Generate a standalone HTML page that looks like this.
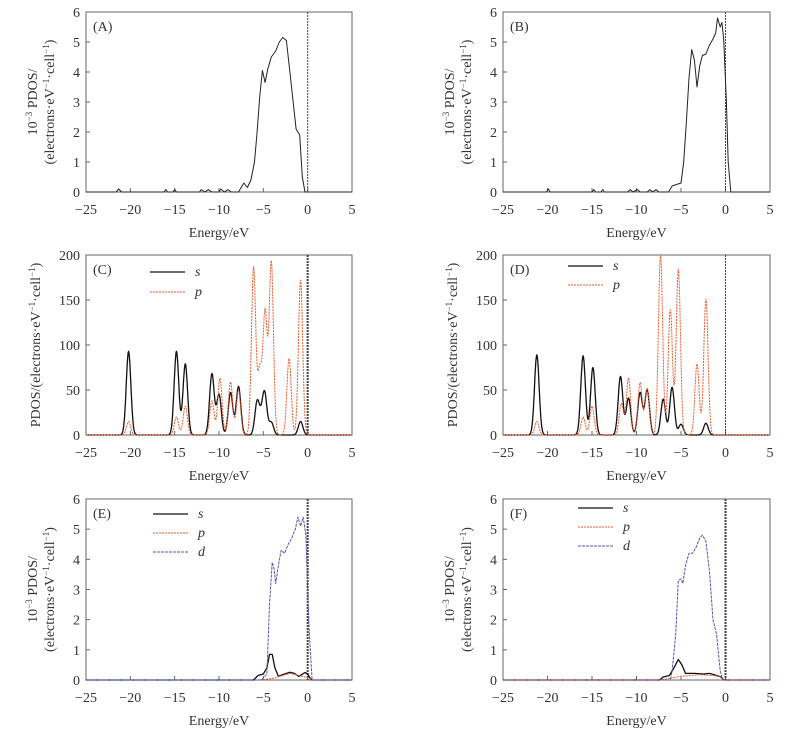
<!DOCTYPE html>
<html><head><meta charset="utf-8">
<style>
body{margin:0;background:#fff;}
svg{display:block;}
svg text{font-family:"Liberation Serif","Times New Roman",serif;}
</style></head>
<body>
<svg id="fig" width="799" height="729" viewBox="0 0 799 729" xmlns="http://www.w3.org/2000/svg" font-family="Liberation Serif, serif"></svg>
<script>
// ---- data ----
const xTicks = [-25,-20,-15,-10,-5,0,5];
const yTicksSmall = [0,1,2,3,4,5,6];
const yTicksBig = [0,50,100,150,200];

const aTotal = [[-25,0],[-21.6,0],[-21.3,0.1],[-21,0],[-16.2,0],[-16,0.08],[-15.8,0],[-15.2,0],[-15,0.08],[-14.8,0],[-12.2,0],[-12,0.08],[-11.6,0],[-11.2,0.08],[-10.8,0],[-10,0],[-9.8,0.1],[-9.4,0],[-9,0.08],[-8.6,0],[-7.8,0],[-7.2,0.3],[-6.8,0.15],[-6.4,0.4],[-6,1.0],[-5.7,2.0],[-5.4,3.2],[-5.1,4.05],[-4.8,3.65],[-4.5,4.1],[-4.1,4.5],[-3.6,4.7],[-3.2,5.0],[-2.8,5.15],[-2.4,5.05],[-2.0,4.0],[-1.6,2.9],[-1.3,2.1],[-0.9,1.9],[-0.6,0.5],[-0.3,0],[5,0]];
const bTotal = [[-25,0],[-20.1,0],[-19.9,0.1],[-19.7,0],[-15,0],[-14.8,0.08],[-14.6,0],[-14,0],[-13.8,0.08],[-13.6,0],[-11,0],[-10.7,0.08],[-10.4,0],[-9.9,0.08],[-9.6,0],[-8.8,0],[-8.5,0.08],[-8.2,0],[-7.8,0.08],[-7.5,0],[-6.4,0],[-6.0,0.2],[-5.5,0.25],[-5.0,0.3],[-4.7,1.0],[-4.4,2.3],[-4.1,3.8],[-3.8,4.75],[-3.5,4.4],[-3.2,3.5],[-2.9,4.2],[-2.6,4.55],[-2.2,4.6],[-1.8,4.9],[-1.4,5.1],[-1.1,5.3],[-0.9,5.8],[-0.6,5.5],[-0.4,5.65],[-0.2,5.1],[0.1,3.0],[0.3,1.0],[0.6,0],[5,0]];

const cSCenters = [-20.2,-14.8,-13.8,-10.8,-10.0,-8.7,-7.8,-5.7,-5.25,-4.85,-4.1,-0.8];
const cSHeights = [93,93,79,68,45,47,54,36,12,45,14,15];
const cPCenters = [-20.2,-14.8,-13.8,-10.8,-9.9,-8.7,-7.8,-6.1,-5.4,-4.8,-4.1,-2.1,-0.8];
const cPHeights = [15,20,32,38,63,59,50,186,70,135,192,85,172];

const dSCenters = [-21.2,-16.0,-14.9,-11.8,-10.9,-9.6,-8.8,-7.0,-6.0,-5.0,-2.2];
const dSHeights = [89,88,75,65,41,47,50,40,53,12,13];
const dPCenters = [-21.2,-16.0,-15.0,-11.7,-10.9,-9.6,-8.8,-7.3,-6.2,-5.3,-3.2,-2.2];
const dPHeights = [15,20,32,35,63,58,52,200,139,184,79,151];

const eD = [[-25,0],[-5.2,0],[-4.6,0.2],[-4.3,2.5],[-4.0,3.9],[-3.8,3.7],[-3.6,3.2],[-3.3,3.8],[-3.0,4.3],[-2.6,4.2],[-2.2,4.5],[-1.8,4.7],[-1.4,5.0],[-1.1,5.4],[-0.8,5.1],[-0.5,5.4],[-0.2,4.8],[0.0,3.0],[0.2,1.5],[0.5,0],[5,0]];
const eS = [[-25,0],[-6.1,0],[-5.6,0.15],[-5.0,0.2],[-4.6,0.4],[-4.3,0.85],[-4.0,0.85],[-3.7,0.4],[-3.3,0.12],[-2.8,0.18],[-2.0,0.26],[-1.5,0.22],[-1.0,0.12],[-0.3,0.25],[0,0.2],[0.3,0.05],[0.5,0],[5,0]];
const eP = [[-25,0],[-5.5,0],[-4,0.05],[-2,0.22],[-1,0.15],[0,0.08],[0.5,0],[5,0]];

const fD = [[-25,0],[-6.2,0],[-6.0,0.3],[-5.6,1.5],[-5.3,3.3],[-5.0,3.35],[-4.8,3.2],[-4.5,3.8],[-4.1,4.2],[-3.7,4.2],[-3.3,4.4],[-2.9,4.7],[-2.6,4.8],[-2.2,4.6],[-1.8,3.6],[-1.4,2.0],[-1.0,1.5],[-0.6,0.3],[-0.3,0],[5,0]];
const fS = [[-25,0],[-7.4,0],[-7,0.1],[-6.3,0.15],[-5.8,0.4],[-5.3,0.68],[-4.9,0.5],[-4.5,0.22],[-3.5,0.22],[-2.5,0.2],[-1.8,0.22],[-1.0,0.15],[-0.5,0.1],[-0.2,0],[5,0]];
const fP = [[-25,0],[-7.3,0],[-5,0.12],[-3,0.18],[-1.5,0.15],[-0.5,0.12],[-0.1,0],[5,0]];

// ---- drawing ----
const NS="http://www.w3.org/2000/svg";
const svg=document.getElementById('fig');
function mk(tag,attrs,parent){const e=document.createElementNS(NS,tag);for(const k in attrs)e.setAttribute(k,attrs[k]);(parent||svg).appendChild(e);return e;}
function gauss(centers,heights,sig){const pts=[];for(let x=-25;x<=5.001;x+=0.05){let y=0;for(let i=0;i<centers.length;i++){const d=(x-centers[i])/sig;y+=heights[i]*Math.exp(-0.5*d*d);}pts.push([x,y]);}return pts;}

function panel(o){
  const g=mk('g',{});
  
  
  const sx=v=>o.x0+(v+25)/30*(o.x1-o.x0);
  const sy=v=>o.y1-v/o.ymax*(o.y1-o.y0);
  const frame=mk('rect',{x:o.x0,y:o.y0,width:o.x1-o.x0,height:o.y1-o.y0,fill:'none',stroke:'#666','stroke-width':1},g);
  
  
  xTicks.forEach(t=>{
    mk('line',{x1:sx(t),x2:sx(t),y1:o.y1,y2:o.y1-4,stroke:'#666'},g);
    const tx=mk('text',{x:sx(t),y:o.y1+22,'font-size':14,'text-anchor':'middle',fill:'#333'},g);
    tx.textContent=(t<0?'\u2212'+(-t):t);
    
    
  });
  o.yt.forEach(t=>{
    mk('line',{x1:o.x0,x2:o.x0+4,y1:sy(t),y2:sy(t),stroke:'#666'},g);
    const ty=mk('text',{x:o.x0-6,y:sy(t)+5,'font-size':14,'text-anchor':'end',fill:'#333'},g);
    ty.textContent=t;
    
    
  });
  const xl=mk('text',{x:(o.x0+o.x1)/2,y:o.y1+45,'font-size':14,'text-anchor':'middle',fill:'#333'},g);
  xl.textContent='Energy/eV';
  
  
  const cy=(o.y0+o.y1)/2;
  if(o.big){
    const yl=mk('text',{x:0,y:0,'font-size':14,'text-anchor':'middle',fill:'#333',transform:`translate(${o.x0-46},${cy}) rotate(-90)`},g);
    yl.innerHTML='PDOS/(electrons·eV<tspan dy="-5" font-size="9">\u22121</tspan><tspan dy="5">·cell</tspan><tspan dy="-5" font-size="9">\u22121</tspan><tspan dy="5">)</tspan>';
    
    
  } else {
    const yl=mk('text',{x:0,y:0,'font-size':14,'text-anchor':'middle',fill:'#333',transform:`translate(${o.x0-49},${cy}) rotate(-90)`},g);
    yl.innerHTML='10<tspan dy="-5" font-size="9">\u22123</tspan><tspan dy="5"> PDOS/</tspan>';
    
    
    const yl2=mk('text',{x:0,y:0,'font-size':14,'text-anchor':'middle',fill:'#333',transform:`translate(${o.x0-32},${cy}) rotate(-90)`},g);
    yl2.innerHTML='(electrons·eV<tspan dy="-5" font-size="9">\u22121</tspan><tspan dy="5">·cell</tspan><tspan dy="-5" font-size="9">\u22121</tspan><tspan dy="5">)</tspan>';
    
    
  }
  const zl=mk('line',{x1:sx(0),x2:sx(0),y1:o.y0,y2:o.y1,stroke:'#444','stroke-width':o.zw||1,'stroke-dasharray':'2,1'},g);
  
  
  o.series.forEach(s=>{
    const d=s.pts.map((p,i)=>(i?'L':'M')+sx(p[0]).toFixed(1)+','+sy(Math.min(p[1],o.ymax)).toFixed(1)).join('');
    const pa=mk('path',{d:d,fill:'none',stroke:s.color,'stroke-width':s.w||1,'stroke-dasharray':s.dash||'none','stroke-linejoin':'round'},g);
    
    
  });
  const lab=mk('text',{x:o.x0+7,y:o.y0+19,'font-size':14,fill:'#333'},g);
  lab.textContent='('+o.id+')';
  
  
  if(o.legend){
    o.series.forEach((s,i)=>{
      const ly=o.legend.y+i*o.legend.dy;
      const ll=mk('line',{x1:o.legend.x,x2:o.legend.x+35,y1:ly,y2:ly,stroke:s.color,'stroke-width':s.w||1,'stroke-dasharray':s.dash||'none'},g);
      
      
      const lt=mk('text',{x:o.legend.x+45,y:ly+4,'font-size':14,'font-style':'italic',fill:'#333'},g);
      lt.textContent=s.name;
      
      
    });
  }
}
const RED='#e85a30', BLUE='#5555aa';
panel({id:'A',x0:86,x1:352,y0:12,y1:192,ymax:6,yt:yTicksSmall,series:[{name:'total',pts:aTotal,color:'#222'}]});
panel({id:'B',x0:503,x1:770,y0:12,y1:192,ymax:6,yt:yTicksSmall,series:[{name:'total',pts:bTotal,color:'#222'}]});
panel({id:'C',x0:86,x1:352,y0:255,y1:435,ymax:200,yt:yTicksBig,big:true,zw:2,legend:{x:150,y:272,dy:20},
  series:[{name:'s',pts:gauss(cSCenters,cSHeights,0.26),color:'#111',w:1.3},{name:'p',pts:gauss(cPCenters,cPHeights,0.24),color:RED,dash:'2,1'}]});
panel({id:'D',x0:503,x1:770,y0:255,y1:435,ymax:200,yt:yTicksBig,big:true,legend:{x:568,y:266,dy:19},
  series:[{name:'s',pts:gauss(dSCenters,dSHeights,0.26),color:'#111',w:1.3},{name:'p',pts:gauss(dPCenters,dPHeights,0.24),color:RED,dash:'2,1'}]});
panel({id:'E',x0:86,x1:352,y0:499,y1:680,ymax:6,yt:yTicksSmall,zw:2,legend:{x:153,y:514,dy:19},
  series:[{name:'s',pts:eS,color:'#111',w:1.3},{name:'p',pts:eP,color:RED,dash:'2,1'},{name:'d',pts:eD,color:BLUE,dash:'3,1'}]});
panel({id:'F',x0:503,x1:770,y0:499,y1:680,ymax:6,yt:yTicksSmall,zw:2,legend:{x:578,y:508,dy:19},
  series:[{name:'s',pts:fS,color:'#111',w:1.3},{name:'p',pts:fP,color:RED,dash:'2,1'},{name:'d',pts:fD,color:BLUE,dash:'3,1'}]});
</script>
</body></html>
